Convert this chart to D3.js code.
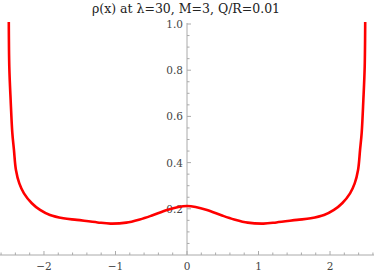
<!DOCTYPE html>
<html>
<head>
<meta charset="utf-8">
<style>
  body { margin: 0; background: #fff; }
  svg { display: block; }
  text { font-family: "DejaVu Serif", "Liberation Serif", serif; }
</style>
</head>
<body>
<svg width="374" height="271"></svg>
<script src="https://d3js.org/d3.v7.min.js"></script>
<script>
// values
let xs = [-2.492, -2.485, -2.466, -2.443, -2.42, -2.392, -2.345, -2.28, -2.17, -2.055, -1.916, -1.73, -1.54, -1.25, -1.07, -0.85, -0.66, -0.5, -0.28, -0.12, 0,
          0.12, 0.28, 0.5, 0.66, 0.85, 1.07, 1.25, 1.54, 1.73, 1.916, 2.055, 2.17, 2.28, 2.345, 2.392, 2.42, 2.443, 2.466, 2.485, 2.492]
let ys = [1.01, 0.815, 0.67, 0.53, 0.455, 0.368, 0.31, 0.267, 0.224, 0.195, 0.173, 0.159, 0.152, 0.141, 0.136, 0.14, 0.154, 0.17, 0.195, 0.208, 0.212,
          0.208, 0.195, 0.17, 0.154, 0.14, 0.136, 0.141, 0.152, 0.159, 0.173, 0.195, 0.224, 0.267, 0.31, 0.368, 0.455, 0.53, 0.67, 0.815, 1.01]
let xTicks = [-2, -1, 0, 1, 2]
let yTicks = [0.2, 0.4, 0.6, 0.8, 1.0]
let title = "ρ(x) at λ=30, M=3, Q/R=0.01"

let svg = d3.select("svg")
let width = 374, height = 271

let x = d3.scaleLinear().domain([-2.615, 2.615]).range([0, width])
let y = d3.scaleLinear().domain([0, 1]).range([255, 24])

let axisColor = "#aaa"

// x axis, ticks pointing up
let xMinor = d3.range(-2.6, 2.61, 0.2).map(d => +d.toFixed(1))
let gx = svg.append("g").attr("transform", `translate(0,${y(0)})`)
gx.append("line").attr("x1", 0).attr("x2", width).attr("stroke", axisColor)
gx.selectAll(".minor").data(xMinor).join("line")
    .attr("x1", d => x(d)).attr("x2", d => x(d))
    .attr("y1", 0).attr("y2", d => xTicks.includes(d) ? -4 : -2.5)
    .attr("stroke", axisColor)
gx.selectAll("text").data(xTicks).join("text")
    .attr("x", d => x(d)).attr("y", 15)
    .attr("text-anchor", "middle")
    .attr("font-size", 10.5).attr("fill", "#444")
    .text(d => d < 0 ? "\u2212" + Math.abs(d) : d)

// y axis, ticks pointing right
let yMinor = d3.range(0.05, 1.001, 0.05).map(d => +d.toFixed(2))
let gy = svg.append("g").attr("transform", `translate(${x(0)},0)`)
gy.append("line").attr("y1", y(0)).attr("y2", y(1) - 1).attr("stroke", axisColor)
gy.selectAll(".minor").data(yMinor).join("line")
    .attr("y1", d => y(d)).attr("y2", d => y(d))
    .attr("x1", 0).attr("x2", d => yTicks.some(t => Math.abs(t - d) < 1e-6) ? 4 : 2.5)
    .attr("stroke", axisColor)
gy.selectAll("text").data(yTicks).join("text")
    .attr("x", -4).attr("y", d => y(d) + 4)
    .attr("text-anchor", "end")
    .attr("font-size", 10.5).attr("fill", "#444")
    .text(d => d.toFixed(1))

// clip curve just above 1.0
svg.append("clipPath").attr("id", "clip")
    .append("rect").attr("x", 0).attr("y", 22).attr("width", width).attr("height", height)

let line = d3.line()
    .x(d => x(d[0]))
    .y(d => y(d[1]))
    .curve(d3.curveCatmullRom.alpha(0.5))

svg.append("path")
    .datum(xs.map((d, i) => [d, ys[i]]))
    .attr("clip-path", "url(#clip)")
    .attr("d", line)
    .attr("fill", "none")
    .attr("stroke", "#f00")
    .attr("stroke-width", 2.6)

svg.append("text")
    .attr("x", 186).attr("y", 13)
    .attr("text-anchor", "middle")
    .attr("font-size", 12.5).attr("fill", "#222")
    .text(title)
</script>
</body>
</html>
